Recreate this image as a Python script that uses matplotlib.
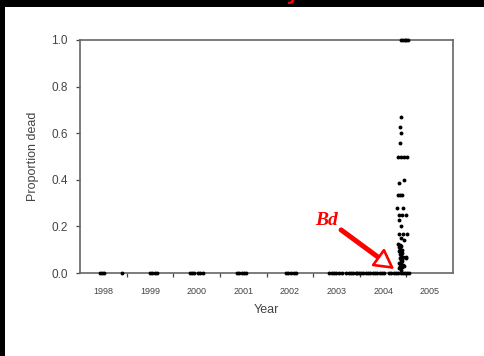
import matplotlib
matplotlib.use("Agg")
import matplotlib.pyplot as plt
from matplotlib.patches import Rectangle

plt.rcParams['font.family'] = ['Liberation Sans', 'DejaVu Sans']

# sites with no deaths (proportion dead = 0), by decimal date
zero_dates = [1998.43, 1998.47, 1998.51, 1998.90,
              1999.50, 1999.55, 1999.60, 1999.65,
              2000.35, 2000.40, 2000.45, 2000.53, 2000.58, 2000.63,
              2001.36, 2001.42, 2001.47, 2001.52, 2001.57,
              2002.41, 2002.47, 2002.53, 2002.58, 2002.64,
              2003.35, 2003.40, 2003.45, 2003.50, 2003.56, 2003.63,
              2003.71, 2003.76, 2003.81, 2003.86, 2003.91, 2003.95, 2003.99,
              2004.03, 2004.08, 2004.13, 2004.18, 2004.23, 2004.28, 2004.33,
              2004.38, 2004.43, 2004.48, 2004.52,
              2004.63, 2004.68, 2004.73, 2004.78, 2004.83, 2004.88, 2004.93,
              2004.98, 2005.02, 2005.05]

# die-off samples after Bd arrived
bd_dates = [2004.89, 2004.93, 2004.96, 2005.00, 2005.03,
            2004.88, 2004.87, 2004.89, 2004.86,
            2004.81, 2004.88, 2004.95, 2005.02,
            2004.84, 2004.95,
            2004.82, 2004.87, 2004.91,
            2004.80, 2004.93,
            2004.84, 2004.91, 2004.99,
            2004.84, 2004.88,
            2004.84, 2004.93, 2005.02,
            2004.88, 2004.95,
            2004.83, 2004.86, 2004.89, 2004.84, 2004.87, 2004.90,
            2004.85, 2004.88, 2004.91, 2004.86, 2004.89, 2004.92,
            2004.87, 2004.90, 2004.99, 2005.00, 2004.88, 2004.91,
            2004.85, 2004.89, 2004.92, 2004.86, 2004.90, 2004.95,
            2004.84, 2004.88]
bd_dead = [1.0, 1.0, 1.0, 1.0, 1.0,
           0.671, 0.628, 0.600, 0.557,
           0.50, 0.50, 0.50, 0.50,
           0.388, 0.40,
           0.333, 0.333, 0.333,
           0.28, 0.28,
           0.25, 0.25, 0.25,
           0.227, 0.20,
           0.167, 0.167, 0.167,
           0.15, 0.14,
           0.125, 0.12, 0.115, 0.11, 0.105, 0.10,
           0.095, 0.09, 0.085, 0.08, 0.075, 0.07,
           0.065, 0.06, 0.064, 0.07, 0.055, 0.05,
           0.045, 0.04, 0.035, 0.03, 0.026, 0.03,
           0.02, 0.015]

years = [1998, 1999, 2000, 2001, 2002, 2003, 2004, 2005]
grey = '#444444'

fig = plt.figure(figsize=(4.84, 3.56), dpi=100, facecolor='black')
fig.patches.append(Rectangle((5 / 484, 0), 1, 349 / 356, transform=fig.transFigure,
                             facecolor='white', edgecolor='none', zorder=-10))
# cut-off red title at the very top
fig.text(293 / 484, 1.004, 'y', color='red', fontsize=16, fontweight='bold',
         ha='center', va='baseline')

ax = fig.add_axes([80 / 484, 1 - 273 / 356, 373 / 484, 233 / 356])
ax.set_facecolor('white')

ax.plot(zero_dates, [0] * len(zero_dates), 'o', color='black', ms=2.8, mec='none', clip_on=False, zorder=5)
ax.plot(bd_dates, bd_dead, 'o', color='black', ms=2.8, mec='none', clip_on=False, zorder=5)

ax.set_xlim(1998, 2006)
ax.set_ylim(0, 1)

ax.set_xticks(years[1:])
ax.set_xticklabels([])
ax.set_xticks([y + 0.5 for y in years], minor=True)
ax.set_xticklabels([str(y) for y in years], minor=True)
ax.tick_params(axis='x', which='major', length=3, width=0.9, color=grey)
ax.tick_params(axis='x', which='minor', length=0, pad=10, labelsize=6.5, labelcolor=grey)

ax.set_yticks([0, 0.2, 0.4, 0.6, 0.8, 1.0])
ax.set_yticklabels(['0.0', '0.2', '0.4', '0.6', '0.8', '1.0'])
ax.tick_params(axis='y', length=3, width=0.9, color=grey, pad=6, labelsize=8.5, labelcolor=grey)

for s in ax.spines.values():
    s.set_color('#666666')
    s.set_linewidth(1.2)

ax.set_xlabel('Year', fontsize=9, color=grey)
ax.xaxis.set_label_coords(0.5, -0.133)
ax.set_ylabel('Proportion dead', fontsize=9, color=grey)
ax.yaxis.set_label_coords(-0.11, 0.5)

# Bd arrival arrow
ax.text(2003.28, 0.227, 'Bd', color='red', fontsize=14, fontweight='bold', fontstyle='italic',
        family='Liberation Serif', ha='center', va='center')
ax.annotate('', xy=(2004.53, 0.048), xytext=(2003.60, 0.185),
            arrowprops=dict(arrowstyle='-', color='red', lw=3.6, shrinkA=0, shrinkB=0))
ax.annotate('', xy=(2004.74, 0.017), xytext=(2004.50, 0.052),
            arrowprops=dict(arrowstyle='-|>,head_length=0.6,head_width=0.33', ec='red', fc='white',
                            lw=1.9, shrinkA=0, shrinkB=0, mutation_scale=20), zorder=6)

fig.savefig('out.png', dpi=100, facecolor='black')
